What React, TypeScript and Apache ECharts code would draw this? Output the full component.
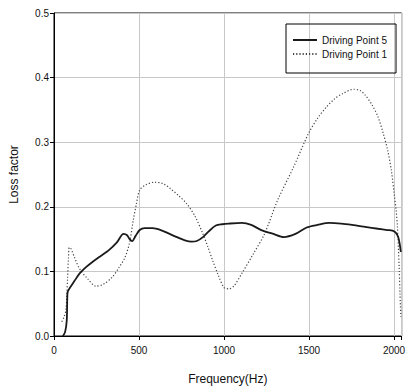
import React, { useEffect, useRef } from "react";
import * as echarts from "echarts";

const dp5Freq = [52, 65, 75, 79, 85, 120, 151, 190, 228, 275, 323, 370, 409, 430, 445, 460, 480, 504, 533, 580, 628, 680, 723, 770, 809, 840, 876, 910, 952, 990, 1028, 1105, 1160, 1219, 1290, 1352, 1420, 1486, 1550, 1620, 1690, 1753, 1830, 1906, 1960, 1991, 2010, 2025, 2035, 2040];
const dp5Loss = [0, 0.006, 0.024, 0.066, 0.071, 0.085, 0.097, 0.107, 0.115, 0.124, 0.133, 0.145, 0.158, 0.156, 0.15, 0.147, 0.155, 0.164, 0.167, 0.167, 0.164, 0.158, 0.153, 0.148, 0.146, 0.147, 0.153, 0.162, 0.171, 0.173, 0.174, 0.175, 0.172, 0.164, 0.158, 0.153, 0.158, 0.168, 0.172, 0.175, 0.174, 0.172, 0.169, 0.166, 0.164, 0.163, 0.16, 0.153, 0.14, 0.13];

const dp1Freq = [46, 60, 70, 75, 80, 85, 90, 100, 120, 151, 200, 247, 290, 342, 380, 418, 445, 466, 485, 504, 540, 590, 640, 685, 730, 780, 830, 876, 905, 933, 965, 1000, 1030, 1060, 1105, 1170, 1238, 1315, 1410, 1496, 1550, 1601, 1650, 1696, 1763, 1800, 1830, 1870, 1906, 1935, 1963, 1985, 2001, 2012, 2020, 2030, 2035, 2040];
const dp1Loss = [0.022, 0.03, 0.04, 0.06, 0.09, 0.12, 0.137, 0.135, 0.122, 0.104, 0.088, 0.077, 0.08, 0.091, 0.105, 0.122, 0.145, 0.179, 0.205, 0.226, 0.234, 0.238, 0.236, 0.228, 0.218, 0.205, 0.185, 0.158, 0.138, 0.117, 0.095, 0.075, 0.073, 0.078, 0.097, 0.126, 0.158, 0.21, 0.262, 0.313, 0.337, 0.354, 0.367, 0.375, 0.382, 0.38, 0.373, 0.358, 0.339, 0.315, 0.287, 0.255, 0.22, 0.195, 0.169, 0.107, 0.066, 0.03];

const seriesNames = ["Driving Point 5", "Driving Point 1"];
const xTitle = "Frequency(Hz)";
const yTitle = "Loss factor";

const FONT = "'Liberation Sans', Arial, sans-serif";

export default function App() {
  const ref = useRef<HTMLDivElement>(null);
  useEffect(() => {
    if (!ref.current) return;
    const chart = echarts.init(ref.current, undefined, { renderer: "svg" });
    const zip = (xs: number[], ys: number[]) => xs.map((x, i) => [x, ys[i]]);
    chart.setOption({
      animation: false,
      backgroundColor: "#fff",
      textStyle: { fontFamily: FONT },
      grid: {
        left: 47,
        top: 13,
        right: 4,
        bottom: 55,
        show: true,
        borderColor: "#000",
        borderWidth: 1,
      },
      legend: {
        data: seriesNames,
        orient: "vertical",
        left: 286,
        top: 24,
        borderColor: "#000",
        borderWidth: 1,
        padding: [11, 9, 14, 6],
        itemGap: 4,
        itemWidth: 24,
        itemHeight: 12,
        itemStyle: { color: "rgba(0,0,0,0)", borderColor: "rgba(0,0,0,0)", borderWidth: 0, opacity: 0 },
        textStyle: { fontSize: 10, color: "#111", fontFamily: FONT },
      },
      xAxis: {
        type: "value",
        min: 0,
        max: 2045,
        interval: 500,
        name: xTitle,
        nameLocation: "middle",
        nameGap: 37,
        nameTextStyle: { fontSize: 12, color: "#111", fontFamily: FONT },
        axisLine: { show: true, lineStyle: { color: "#000", width: 1 } },
        axisTick: { show: true, inside: false, length: 4, lineStyle: { color: "#000" } },
        axisLabel: {
          fontSize: 10,
          color: "#111",
          margin: 9,
          fontFamily: FONT,
          formatter: (v: number) => (v % 500 === 0 ? String(v) : ""),
        },
        splitLine: { show: true, lineStyle: { color: "#c8c8c8", width: 1 } },
      },
      yAxis: {
        type: "value",
        min: 0,
        max: 0.5,
        interval: 0.1,
        name: yTitle,
        nameLocation: "middle",
        nameGap: 34,
        nameTextStyle: { fontSize: 12, color: "#111", fontFamily: FONT },
        axisLine: { show: true, lineStyle: { color: "#000", width: 1 } },
        axisTick: { show: true, inside: false, length: 4, lineStyle: { color: "#000" } },
        axisLabel: {
          fontSize: 10,
          color: "#111",
          margin: 5,
          fontFamily: FONT,
          formatter: (v: number) => v.toFixed(1),
        },
        splitLine: { show: true, lineStyle: { color: "#c8c8c8", width: 1 } },
      },
      series: [
        {
          name: seriesNames[0],
          type: "line",
          data: zip(dp5Freq, dp5Loss),
          smooth: 0.3,
          symbol: "none",
          lineStyle: { color: "#1a1a1a", width: 1.8, type: "solid" },
          itemStyle: { color: "#1a1a1a" },
          z: 3,
        },
        {
          name: seriesNames[1],
          type: "line",
          data: zip(dp1Freq, dp1Loss),
          smooth: 0.3,
          symbol: "none",
          lineStyle: { color: "#444", width: 1.2, type: [1.2, 2] },
          itemStyle: { color: "#444" },
          z: 2,
        },
      ],
    });
    return () => chart.dispose();
  }, []);
  return <div ref={ref} style={{ width: 408, height: 391, position: "absolute", left: 0, top: 0 }} />;
}
